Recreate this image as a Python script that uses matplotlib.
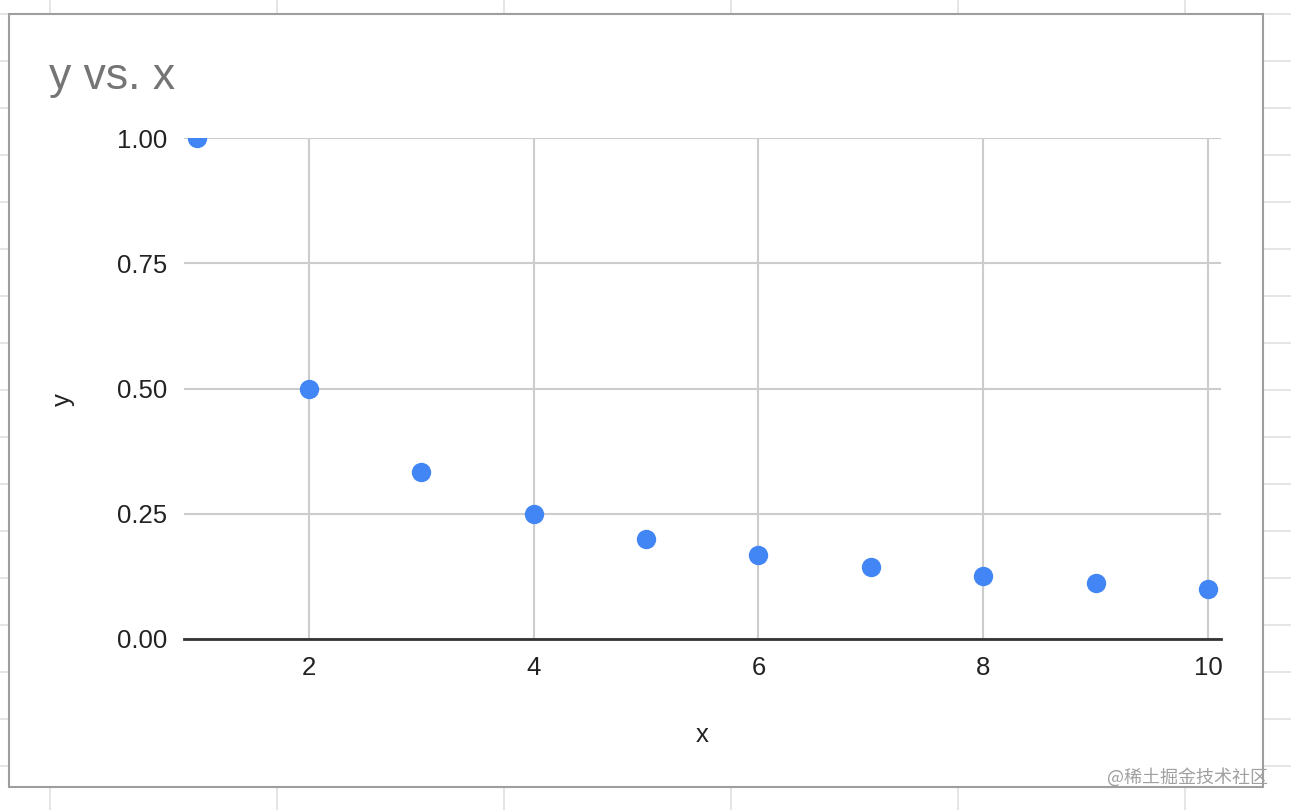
import matplotlib.pyplot as plt
from matplotlib.lines import Line2D
from matplotlib.patches import Rectangle

# Datos: y = 1/x
x_vals = [1, 2, 3, 4, 5, 6, 7, 8, 9, 10]
y_vals = [1.0, 0.5, 0.333, 0.25, 0.2, 0.167, 0.143, 0.125, 0.111, 0.1]
x_ticks = [2, 4, 6, 8, 10]
y_ticks = [0.0, 0.25, 0.5, 0.75, 1.0]
y_tick_labels = ['0.00', '0.25', '0.50', '0.75', '1.00']

plt.rcParams['font.family'] = ['Liberation Sans', 'DejaVu Sans']

W, H = 1291, 810
fig = plt.figure(figsize=(W / 100, H / 100), dpi=100)

# Rejilla de la hoja de cálculo de fondo
for xv in [50, 277, 504, 731, 958, 1185]:
    fig.add_artist(Line2D([xv / W, xv / W], [0, 1], color='#e0e0e0', lw=1.2, zorder=0))
for yv in range(14, 810, 47):
    fig.add_artist(Line2D([0, 1], [1 - yv / H, 1 - yv / H], color='#e0e0e0', lw=1.2, zorder=0))

# Marco del gráfico
fig.add_artist(Rectangle((9 / W, 1 - 787 / H), (1263 - 9) / W, (787 - 14) / H,
                         facecolor='white', edgecolor='#9e9e9e', lw=1.5, zorder=1))

ax = fig.add_axes([184 / W, 1 - 639 / H, (1221 - 184) / W, (639 - 138) / H])
ax.set_zorder(2)
ax.patch.set_alpha(0)

ax.scatter(x_vals, y_vals, s=195, color='#4285F4', zorder=3, linewidths=0)

ax.set_xlim(0.888, 10.116)
ax.set_ylim(0, 1)
ax.set_xticks(x_ticks)
ax.set_yticks(y_ticks)
ax.set_yticklabels(y_tick_labels)
ax.tick_params(length=0, labelsize=18.5, colors='#222222', pad=12)
ax.grid(True, color='#cccccc', lw=1.5)
ax.set_axisbelow(True)
for s in ['top', 'right', 'left']:
    ax.spines[s].set_visible(False)
ax.spines['bottom'].set_color('#333333')
ax.spines['bottom'].set_linewidth(2)
ax.spines['bottom'].set_zorder(2.5)

fig.text(702 / W, 1 - 735 / H, 'x', fontsize=18.5, color='#222222', ha='center', va='center')
fig.text(63 / W, 1 - 400 / H, 'y', fontsize=18.5, color='#222222', ha='center', va='center',
         rotation=90)
fig.text(49 / W, 1 - 77 / H, 'y vs. x', fontsize=32, color='#757575', ha='left', va='center')

fig.text(1268 / W, 1 - 777 / H, '@稀土掘金技术社区', fontsize=13, color='#a0a0a0',
         ha='right', va='center', family=['Noto Sans CJK SC', 'DejaVu Sans'], zorder=5)

plt.savefig('out.png', dpi=100)
